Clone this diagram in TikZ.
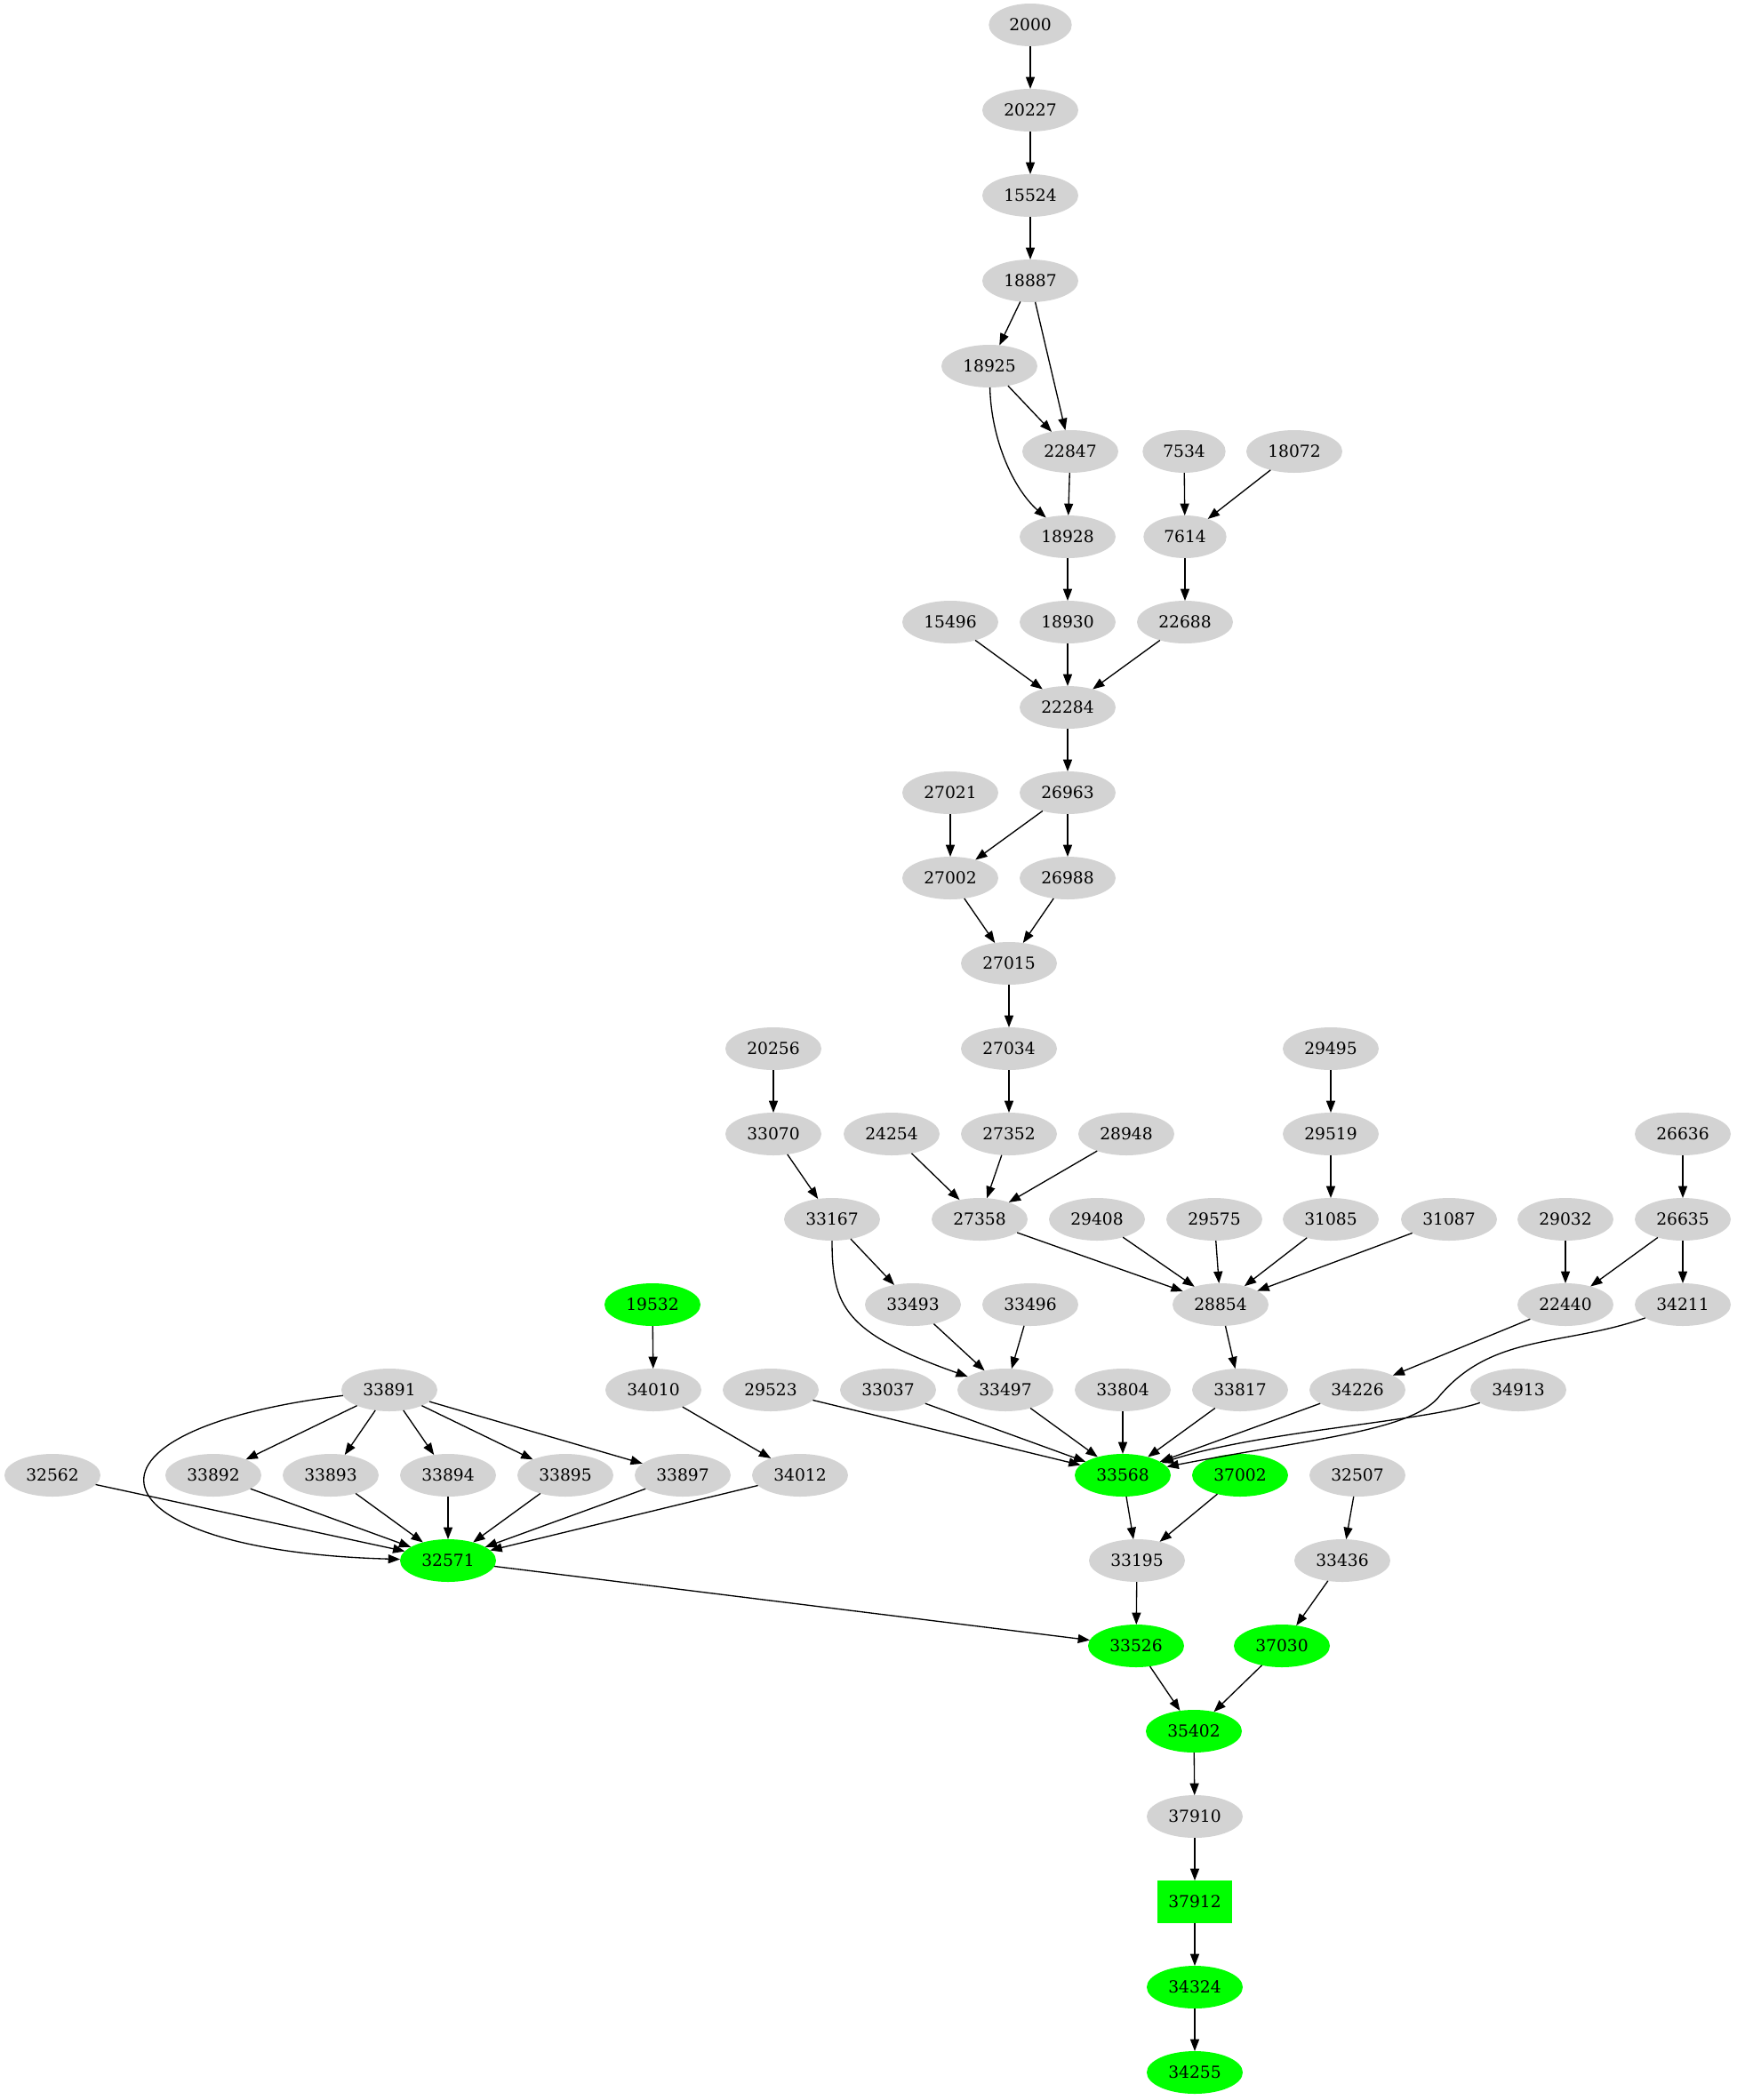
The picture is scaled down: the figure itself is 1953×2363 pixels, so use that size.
\documentclass[tikz,border=0pt]{standalone}
\usepackage{fontspec}
\setmainfont{DejaVu Serif}
\usetikzlibrary{shapes.geometric,arrows.meta}
\definecolor{lgray}{HTML}{D3D3D3}
\definecolor{vgreen}{HTML}{00FF00}
\tikzset{
  nd/.style={ellipse, fill=lgray, minimum width=81pt, minimum height=36pt, inner sep=0pt, outer sep=0pt, font=\fontsize{14pt}{16pt}\selectfont},
  sm/.style={minimum width=70pt},
  gn/.style={fill=vgreen},
  bx/.style={rectangle, fill=vgreen, minimum width=63pt, minimum height=36pt, inner sep=0pt, outer sep=0pt, font=\fontsize{14pt}{16pt}\selectfont},
  e/.style={-{Triangle[length=10pt,width=7.5pt]}, line width=1pt, black}
}
\begin{document}
\begin{tikzpicture}[x=0.75pt,y=-0.75pt]
\useasboundingbox (0,0) rectangle (1953,2363);
% row 0-4
\node[nd,sm] (n2000) at (1159,28) {2000};
\node[nd] (n20227) at (1159,124) {20227};
\node[nd] (n15524) at (1159,220) {15524};
\node[nd] (n18887) at (1159,316) {18887};
\node[nd] (n18925) at (1113,412) {18925};
% row 5
\node[nd] (n22847) at (1204,508) {22847};
\node[nd,sm] (n7534) at (1332,508) {7534};
\node[nd] (n18072) at (1456,508) {18072};
% row 6
\node[nd] (n18928) at (1201,604) {18928};
\node[nd,sm] (n7614) at (1333,604) {7614};
% row 7
\node[nd] (n15496) at (1069,700) {15496};
\node[nd] (n18930) at (1201,700) {18930};
\node[nd] (n22688) at (1333,700) {22688};
% row 8
\node[nd] (n22284) at (1201,796) {22284};
% row 9
\node[nd] (n27021) at (1069,892) {27021};
\node[nd] (n26963) at (1201,892) {26963};
% row 10
\node[nd] (n27002) at (1069,988) {27002};
\node[nd] (n26988) at (1201,988) {26988};
% row 11
\node[nd] (n27015) at (1135,1084) {27015};
% row 12
\node[nd] (n20256) at (870,1180) {20256};
\node[nd] (n27034) at (1135,1180) {27034};
\node[nd] (n29495) at (1497,1180) {29495};
% row 13
\node[nd] (n33070) at (870,1276) {33070};
\node[nd] (n24254) at (1003,1276) {24254};
\node[nd] (n27352) at (1135,1276) {27352};
\node[nd] (n28948) at (1267,1276) {28948};
\node[nd] (n29519) at (1497,1276) {29519};
\node[nd] (n26636) at (1893,1276) {26636};
% row 14
\node[nd] (n33167) at (936,1372) {33167};
\node[nd] (n27358) at (1102,1372) {27358};
\node[nd] (n29408) at (1234,1372) {29408};
\node[nd] (n29575) at (1366,1372) {29575};
\node[nd] (n31085) at (1497,1372) {31085};
\node[nd] (n31087) at (1630,1372) {31087};
\node[nd] (n29032) at (1761,1372) {29032};
\node[nd] (n26635) at (1893,1372) {26635};
% row 15
\node[nd,gn] (n19532) at (734,1468) {19532};
\node[nd] (n33493) at (1027,1468) {33493};
\node[nd] (n33496) at (1159,1468) {33496};
\node[nd] (n28854) at (1373,1468) {28854};
\node[nd] (n22440) at (1761,1468) {22440};
\node[nd] (n34211) at (1893,1468) {34211};
% row 16
\node[nd] (n33891) at (438,1564) {33891};
\node[nd] (n34010) at (735,1564) {34010};
\node[nd] (n29523) at (867,1564) {29523};
\node[nd] (n33037) at (999,1564) {33037};
\node[nd] (n33497) at (1131,1564) {33497};
\node[nd] (n33804) at (1263,1564) {33804};
\node[nd] (n33817) at (1395,1564) {33817};
\node[nd] (n34226) at (1527,1564) {34226};
\node[nd] (n34913) at (1708,1564) {34913};
% row 17
\node[nd] (n32562) at (59,1660) {32562};
\node[nd] (n33892) at (240,1660) {33892};
\node[nd] (n33893) at (372,1660) {33893};
\node[nd] (n33894) at (504,1660) {33894};
\node[nd] (n33895) at (636,1660) {33895};
\node[nd] (n33897) at (768,1660) {33897};
\node[nd] (n34012) at (900,1660) {34012};
\node[nd,gn] (n33568) at (1263,1660) {33568};
\node[nd,gn] (n37002) at (1395,1660) {37002};
\node[nd] (n32507) at (1527,1660) {32507};
% row 18
\node[nd,gn] (n32571) at (504,1756) {32571};
\node[nd] (n33195) at (1279,1756) {33195};
\node[nd] (n33436) at (1510,1756) {33436};
% row 19
\node[nd,gn] (n33526) at (1278,1852) {33526};
\node[nd,gn] (n37030) at (1442,1852) {37030};
% rows 20-24
\node[nd,gn] (n35402) at (1343,1948) {35402};
\node[nd] (n37910) at (1344,2044) {37910};
\node[bx] (n37912) at (1344,2140) {37912};
\node[nd,gn] (n34324) at (1344,2236) {34324};
\node[nd,gn] (n34255) at (1344,2332) {34255};

% straight edges
\foreach \a/\b in {2000/20227, 20227/15524, 15524/18887, 18887/18925, 18887/22847,
  18925/22847, 22847/18928, 7534/7614, 18072/7614, 18928/18930, 7614/22688,
  15496/22284, 18930/22284, 22688/22284, 22284/26963, 27021/27002, 26963/27002,
  26963/26988, 27002/27015, 26988/27015, 27015/27034, 27034/27352, 20256/33070,
  24254/27358, 27352/27358, 28948/27358, 29495/29519, 29519/31085, 26636/26635,
  33070/33167, 33167/33493, 27358/28854, 29408/28854, 29575/28854, 31085/28854,
  31087/28854, 29032/22440, 26635/22440, 26635/34211, 19532/34010, 33493/33497,
  33496/33497, 28854/33817, 22440/34226, 33891/33892, 33891/33893, 33891/33894,
  33891/33895, 33891/33897, 34010/34012, 29523/33568, 33037/33568, 33497/33568,
  33804/33568, 33817/33568, 34226/33568, 32562/32571, 33892/32571, 33893/32571,
  33894/32571, 33895/32571, 33897/32571, 34012/32571, 33568/33195, 37002/33195,
  32507/33436, 32571/33526, 33195/33526, 33436/37030, 33526/35402, 37030/35402,
  35402/37910, 37910/37912, 37912/34324, 34324/34255}
  \draw[e] (n\a) -- (n\b);

% curved edges
\draw[e] (n18925) .. controls (1115,495) and (1140,550) .. (n18928);
\draw[e] (n33167) .. controls (936,1470) and (950,1500) .. (n33497);
\draw[e] (n33891) .. controls (60,1610) and (100,1745) .. (n32571);
\draw[e] (n34211) .. controls (1760,1515) and (1680,1500) .. (1620,1570)
   .. controls (1590,1610) and (1480,1618) .. (n33568);
\draw[e] (n34913) .. controls (1600,1600) and (1420,1610) .. (n33568);
\end{tikzpicture}
\end{document}
